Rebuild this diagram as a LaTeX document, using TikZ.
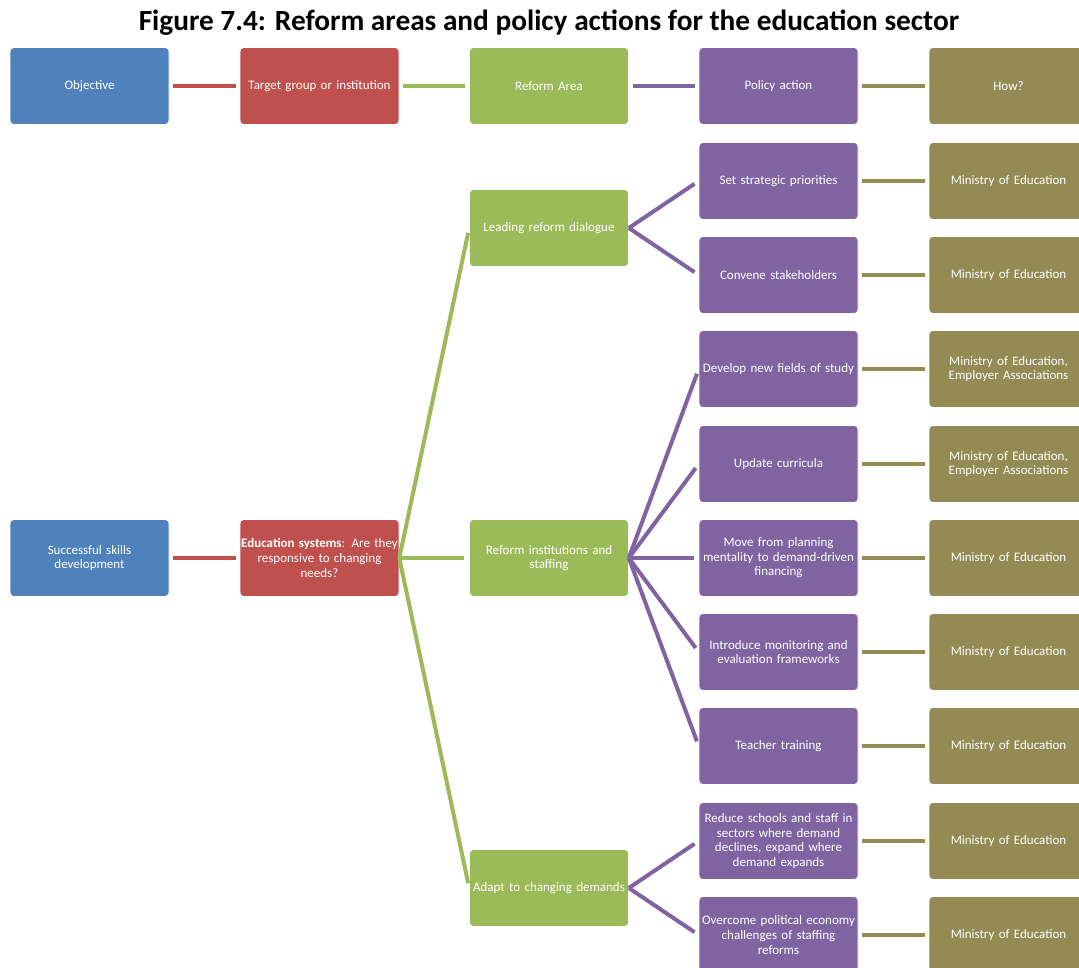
\documentclass[tikz,border=0pt]{standalone}
\usepackage{fontspec}
\setmainfont{Carlito}
\usepackage{xcolor}
\definecolor{objblue}{HTML}{4F81BD}
\definecolor{tgtred}{HTML}{C0504D}
\definecolor{areagreen}{HTML}{9BBB59}
\definecolor{actpurple}{HTML}{8064A2}
\definecolor{howolive}{HTML}{948A54}
\newcommand{\FT}{\fontsize{29.3}{32}\selectfont\bfseries}
\newcommand{\FB}{\fontsize{13}{14.6}\selectfont}

\begin{document}
\begin{tikzpicture}[x=1pt,y=-1pt]
\tikzstyle{box}=[draw=white,line width=0.6pt,rounded corners=4pt,minimum width=159pt,minimum height=77pt,text width=157pt,align=center,inner sep=1pt,text=white,font=\FB]
\tikzstyle{link}=[line width=4pt]
\tikzstyle{bar}=[link,shorten <=4pt,shorten >=4pt]
\tikzstyle{branch}=[link,shorten >=5pt]

\useasboundingbox (0,0) rectangle (1079,968);
\clip (0,0) rectangle (1079,968);

\node[font=\FT] (title) at (549,23) {Figure 7.4: Reform areas and policy actions for the education sector};

% header row
\node[box,fill=objblue]    (hobj) at (89.5,86)   {Objective};
\node[box,fill=tgtred]     (htgt) at (319.5,86)  {Target group or institution};
\node[box,fill=areagreen]  (hare) at (549,86)    {Reform Area};
\node[box,fill=actpurple]  (hact) at (778.5,86)  {Policy action};
\node[box,fill=howolive]   (hhow) at (1008.5,86) {How?};

\draw[bar,tgtred]    (hobj.east) -- (htgt.west);
\draw[bar,areagreen] (htgt.east) -- (hare.west);
\draw[bar,actpurple] (hare.east) -- (hact.west);
\draw[bar,howolive]  (hact.east) -- (hhow.west);

% objective and target
\node[box,fill=objblue] (obj) at (89.5,558)  {Successful skills\\development};
\node[box,fill=tgtred]  (tgt) at (319.5,558) {\textbf{Education systems}: Are they\\responsive to changing\\needs?};

% reform areas
\node[box,fill=areagreen] (dlg)   at (549,228) {Leading reform dialogue};
\node[box,fill=areagreen] (inst)  at (549,558) {Reform institutions and\\staffing};
\node[box,fill=areagreen] (adapt) at (549,888) {Adapt to changing demands};

% policy actions
\node[box,fill=actpurple] (pa1) at (778.5,181) {Set strategic priorities};
\node[box,fill=actpurple] (pa2) at (778.5,275) {Convene stakeholders};
\node[box,fill=actpurple] (pa3) at (778.5,369) {Develop new fields of study};
\node[box,fill=actpurple] (pa4) at (778.5,464) {Update curricula};
\node[box,fill=actpurple] (pa5) at (778.5,558) {Move from planning\\mentality to demand-driven\\financing};
\node[box,fill=actpurple] (pa6) at (778.5,652) {Introduce monitoring and\\evaluation frameworks};
\node[box,fill=actpurple] (pa7) at (778.5,746) {Teacher training};
\node[box,fill=actpurple] (pa8) at (778.5,841) {Reduce schools and staff in\\sectors where demand\\declines, expand where\\demand expands};
\node[box,fill=actpurple] (pa9) at (778.5,935) {Overcome political economy\\challenges of staffing\\reforms};

% how
\node[box,fill=howolive] (how1) at (1008.5,181) {Ministry of Education};
\node[box,fill=howolive] (how2) at (1008.5,275) {Ministry of Education};
\node[box,fill=howolive] (how3) at (1008.5,369) {Ministry of Education,\\Employer Associations};
\node[box,fill=howolive] (how4) at (1008.5,464) {Ministry of Education,\\Employer Associations};
\node[box,fill=howolive] (how5) at (1008.5,558) {Ministry of Education};
\node[box,fill=howolive] (how6) at (1008.5,652) {Ministry of Education};
\node[box,fill=howolive] (how7) at (1008.5,746) {Ministry of Education};
\node[box,fill=howolive] (how8) at (1008.5,841) {Ministry of Education};
\node[box,fill=howolive] (how9) at (1008.5,935) {Ministry of Education};

% connectors
\draw[bar,tgtred] (obj.east) -- (tgt.west);

\draw[branch,areagreen] (tgt.east) -- (dlg.west);
\draw[branch,areagreen] (tgt.east) -- (inst.west);
\draw[branch,areagreen] (tgt.east) -- (adapt.west);

\draw[branch,actpurple] (dlg.east) -- (pa1.west);
\draw[branch,actpurple] (dlg.east) -- (pa2.west);
\draw[branch,actpurple] (inst.east) -- (pa3.west);
\draw[branch,actpurple] (inst.east) -- (pa4.west);
\draw[branch,actpurple] (inst.east) -- (pa5.west);
\draw[branch,actpurple] (inst.east) -- (pa6.west);
\draw[branch,actpurple] (inst.east) -- (pa7.west);
\draw[branch,actpurple] (adapt.east) -- (pa8.west);
\draw[branch,actpurple] (adapt.east) -- (pa9.west);

\draw[bar,howolive] (pa1.east) -- (how1.west);
\draw[bar,howolive] (pa2.east) -- (how2.west);
\draw[bar,howolive] (pa3.east) -- (how3.west);
\draw[bar,howolive] (pa4.east) -- (how4.west);
\draw[bar,howolive] (pa5.east) -- (how5.west);
\draw[bar,howolive] (pa6.east) -- (how6.west);
\draw[bar,howolive] (pa7.east) -- (how7.west);
\draw[bar,howolive] (pa8.east) -- (how8.west);
\draw[bar,howolive] (pa9.east) -- (how9.west);
\end{tikzpicture}
\end{document}
